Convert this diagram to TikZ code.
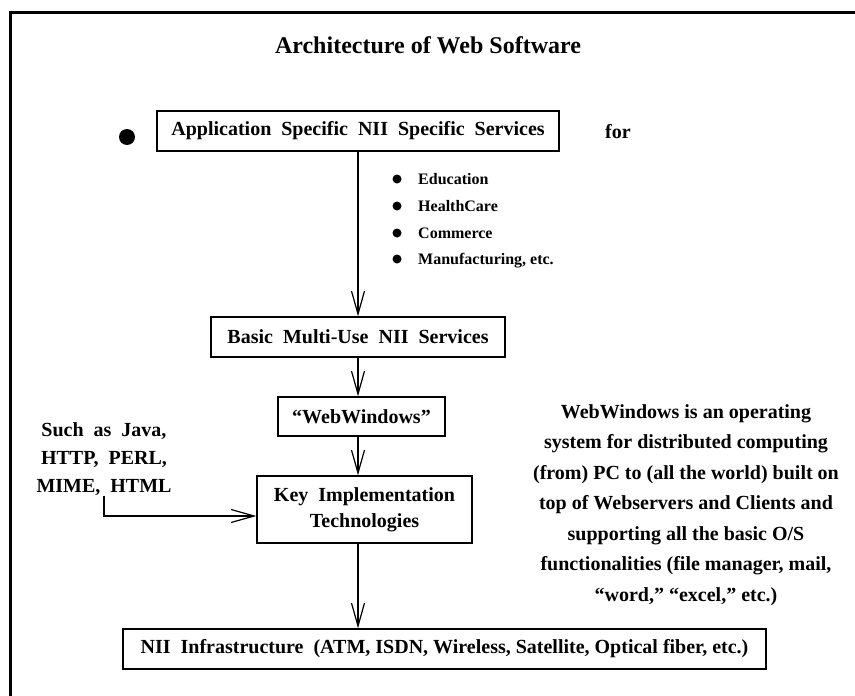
\documentclass[tikz,border=0pt]{standalone}
\usepackage{fontspec}
\setmainfont{Liberation Serif}
\usetikzlibrary{arrows.meta}

\tikzset{
  box/.style={draw, line width=1.4pt, minimum height=40pt, inner sep=0pt,
    font=\fontsize{20}{26}\selectfont\bfseries, align=center},
  txt/.style={inner sep=0pt, font=\fontsize{20}{30.5}\selectfont\bfseries, align=center},
  flow/.style={line width=1.2pt, -{Straight Barb[length=23pt,width=13pt]}},
}

\begin{document}
\begin{tikzpicture}[x=1pt,y=-1pt]
\useasboundingbox (0,0) rectangle (855,696);

% outer frame
\draw[line width=3pt] (10,12) rectangle (875,715);

% title
\node[txt, font=\fontsize{24}{28}\selectfont\bfseries] (title) at (428,45) {Architecture of Web Software};

% layers
\node[circle, fill, inner sep=0pt, minimum size=16pt] (dot) at (127,137) {};
\node[box, minimum width=402pt] (app) at (358,131) {Application~ Specific~ NII~ Specific~ Services};
\node[txt, anchor=base] (for) at (618,138) {for};
\node[box, minimum width=294pt] (basic) at (358,337) {Basic~ Multi-Use~ NII~ Services};
\node[box, minimum width=167pt, minimum height=39pt] (ww) at (361.5,416.5) {``WebWindows''};
\node[box, minimum width=215pt, minimum height=67pt] (key) at (364.5,509.5) {Key~ Implementation\\Technologies};
\node[box, minimum width=643pt] (nii) at (444.5,649) {NII~ Infrastructure~ (ATM, ISDN, Wireless, Satellite, Optical fiber, etc.)};

% application areas
\foreach \y/\t [count=\i] in {179/Education, 206/HealthCare, 233/Commerce, 259/{Manufacturing, etc.}} {
  \fill (397,\y) circle (4.5);
  \node[txt, font=\fontsize{16}{20}\selectfont\bfseries, anchor=base west] (item\i) at (418,\y+5.5) {\t};
}

% side notes
\node[txt, font=\fontsize{20}{28}\selectfont\bfseries] (tech) at (104,459) {Such~ as~ Java,\\HTTP,~ PERL,\\MIME,~ HTML};
\node[txt] (note) at (686,505) {WebWindows is an operating\\system for distributed computing\\(from) PC to (all the world) built on\\top of Webservers and Clients and\\supporting all the basic O/S\\functionalities (file manager, mail,\\``word,'' ``excel,'' etc.)};

% arrows
\draw[flow] (app.south) -- (basic.north);
\draw[flow] (basic.south) -- (basic.south |- ww.north);
\draw[flow] (basic.south |- ww.south) -- (basic.south |- key.north);
\draw[flow] (basic.south |- key.south) -- (basic.south |- nii.north);
\draw[flow] (tech.south) |- ([yshift=-6.5pt]key.west);

\end{tikzpicture}
\end{document}
